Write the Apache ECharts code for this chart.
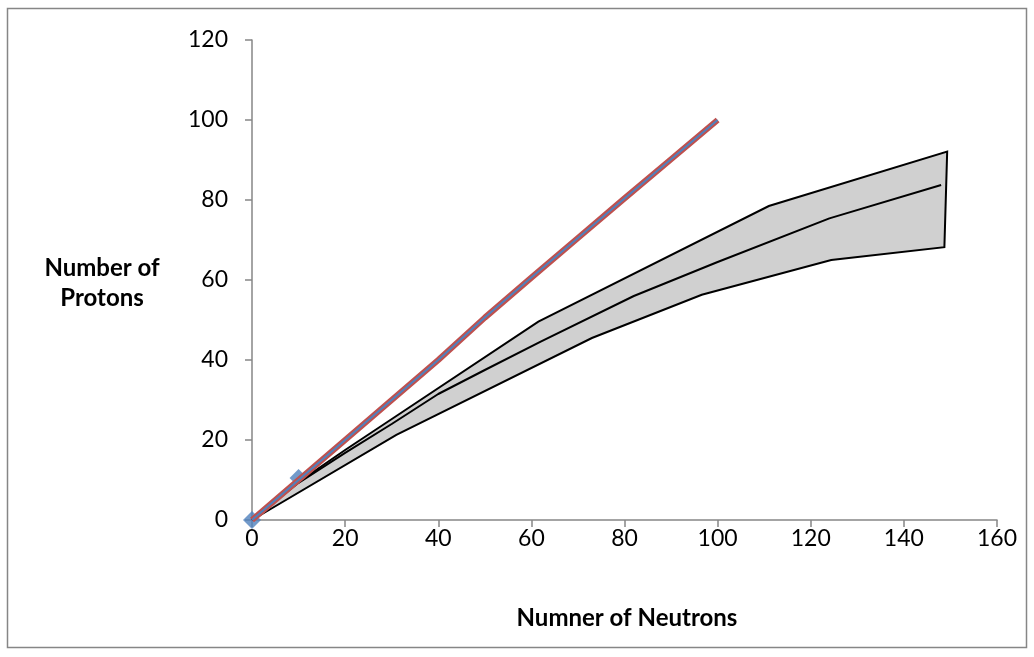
<!DOCTYPE html>
<html>
<head>
<meta charset="utf-8">
<script src="https://cdn.jsdelivr.net/npm/echarts@6/dist/echarts.min.js"></script>
<style>
html,body{margin:0;padding:0;background:#fff;}
#chart{width:1034px;height:657px;}
</style>
</head>
<body>
<div id="chart"></div>
<script>
// Diagonal N = Z lines
const diagX = [0, 10, 20, 30, 40, 50, 60, 70, 80, 90, 100];
const diagY = [0, 10, 20, 30, 40, 50.6, 60.6, 70.5, 80.4, 90.2, 100];
// Blue markers
const markerX = [0, 10];
const markerY = [0, 10.5];
// Stability band boundaries
const upperX = [0, 10, 20, 31, 61.5, 111, 149.3];
const upperY = [0, 9.5, 17.5, 26, 49.6, 78.5, 92.1];
const lowerX = [0, 31, 73, 96.6, 124.4, 148.7];
const lowerY = [0, 21.3, 45.5, 56.3, 65, 68.2];
// Middle line of band
const midX = [0, 10, 20, 30, 40, 50, 62, 82, 100, 124, 148];
const midY = [0, 9.3, 16.8, 24, 31.5, 37.5, 44.6, 56, 64.5, 75.4, 83.75];
// Axis ticks
const xTicks = [0, 20, 40, 60, 80, 100, 120, 140, 160];
const yTicks = [0, 20, 40, 60, 80, 100, 120];

const zip = (xs, ys) => xs.map((x, i) => [x, ys[i]]);

const FONT = 'Lato, "Open Sans", sans-serif';
const chart = echarts.init(document.getElementById('chart'), null, {renderer: 'canvas'});

const polyPts = zip(upperX, upperY).concat(zip(lowerX, lowerY).reverse());

chart.setOption({
  animation: false,
  backgroundColor: '#ffffff',
  grid: {left: 252, right: 37, top: 40, bottom: 137, containLabel: false},
  xAxis: {
    type: 'value', min: xTicks[0], max: xTicks[xTicks.length - 1], interval: 20,
    axisLine: {show: true, onZero: false, lineStyle: {color: '#868686', width: 1.5}},
    axisTick: {show: true, length: 7, lineStyle: {color: '#868686', width: 1.5}},
    axisLabel: {color: '#000', fontSize: 23, fontFamily: FONT, margin: 7},
    splitLine: {show: false}
  },
  yAxis: {
    type: 'value', min: yTicks[0], max: yTicks[yTicks.length - 1], interval: 20,
    axisLine: {show: true, onZero: false, lineStyle: {color: '#868686', width: 1.5}},
    axisTick: {show: true, length: 7, lineStyle: {color: '#868686', width: 1.5}},
    axisLabel: {color: '#000', fontSize: 23, fontFamily: FONT, margin: 24},
    splitLine: {show: false}
  },
  graphic: [
    {type: 'rect', shape: {x: 7.5, y: 8.5, width: 1019, height: 639}, style: {fill: 'none', stroke: '#868686', lineWidth: 1.5}, z: -10, silent: true},
    {type: 'text', style: {x: 102, y: 283, text: 'Number of\nProtons', textAlign: 'center', textVerticalAlign: 'middle', fontSize: 24, fontWeight: 'bold', fontFamily: FONT, lineHeight: 30, fill: '#000'}},
    {type: 'text', style: {x: 627, y: 618, text: 'Numner of Neutrons', textAlign: 'center', textVerticalAlign: 'middle', fontSize: 24, fontWeight: 'bold', fontFamily: FONT, fill: '#000'}}
  ],
  series: [
    {
      type: 'scatter', data: zip(markerX, markerY), symbol: 'diamond', symbolSize: 18,
      itemStyle: {color: '#4f81bd'}, z: 1
    },
    {
      type: 'custom', z: 2, data: [[0, 0]],
      renderItem: function (params, api) {
        const pts = polyPts.map(p => api.coord(p));
        return {type: 'polygon', shape: {points: pts}, style: {fill: '#d0d0d0', stroke: '#000', lineWidth: 2}};
      }
    },
    {
      type: 'line', data: zip(midX, midY), showSymbol: false, symbol: 'none', z: 3,
      lineStyle: {color: '#000', width: 2}
    },
    {
      type: 'line', data: zip(diagX, diagY), showSymbol: false, symbol: 'none', z: 4,
      lineStyle: {color: '#c0504d', width: 6}
    },
    {
      type: 'line', data: zip(diagX, diagY), showSymbol: false, symbol: 'none', z: 5,
      lineStyle: {color: '#4f81bd', width: 2}
    }
  ]
});
</script>
</body>
</html>
